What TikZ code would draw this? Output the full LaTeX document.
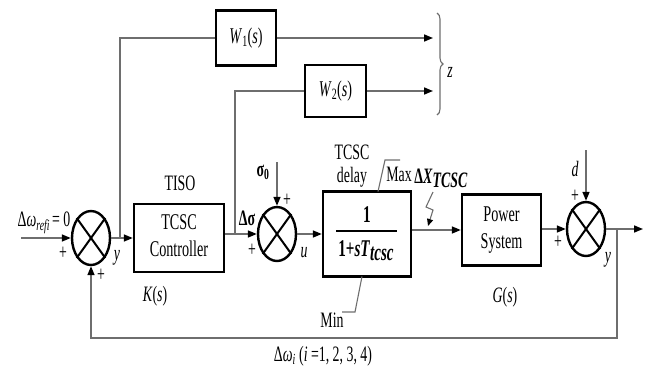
\documentclass[tikz,border=0pt]{standalone}
\usepackage{fontspec}
\setmainfont{Liberation Serif}
\usetikzlibrary{arrows.meta,shapes.geometric,decorations.pathreplacing}
\newcommand{\sq}[1]{\scalebox{0.63}[1]{#1}}
\definecolor{ln}{RGB}{110,110,110}
\begin{document}
\begin{tikzpicture}[x=1pt,y=-1pt,
  conn/.style={ln, line width=1.6pt},
  arr/.style={conn, -{Triangle[length=9pt,width=7pt,color=black]}},
  blk/.style={draw, line width=2.4pt, inner sep=0, font=\fontsize{22.5}{27}\selectfont},
  sumj/.style={ellipse, draw, line width=2.4pt, minimum width=38pt, minimum height=54pt, inner sep=0},
  lbl/.style={inner sep=0, font=\fontsize{22}{25}\selectfont},
  bl/.style={inner sep=0, font=\fontsize{22}{25}\selectfont\bfseries},
  thin/.style={ln, line width=1.1pt}]
\useasboundingbox (0,0) rectangle (664,370);
% summing junctions
\node[sumj] (s1) at (91,238) {};
\node[sumj] (s2) at (277,234) {};
\node[sumj] (s3) at (586,229) {};
\foreach \s in {s1,s2,s3}{
  \draw[line width=2pt] (\s.north east) -- (\s.south west);
  \draw[line width=2pt] (\s.north west) -- (\s.south east);
}
% blocks
\node[blk, minimum width=90, minimum height=68] (ctrl) at (179,238)
  {\sq{\begin{tabular}{@{}c@{}}TCSC\\Controller\end{tabular}}};
\node[blk, minimum width=60, minimum height=55] (W1) at (246,38)
  {\sq{\textit{W}\textsubscript{1}(\textit{s})}};
\node[blk, minimum width=61, minimum height=52] (W2) at (335.5,91)
  {\sq{\textit{W}\textsubscript{2}(\textit{s})}};
\node[blk, minimum width=88, minimum height=85] (dl) at (367,234) {};
\node[blk, minimum width=79, minimum height=71] (pw) at (501.5,230)
  {\sq{\begin{tabular}{@{}c@{}}Power\\System\end{tabular}}};
% fraction in delay block
\node[inner sep=0, font=\fontsize{24}{26}\selectfont\bfseries] (num) at (367,215) {\sq{1}};
\draw[line width=1.3pt] (336,231) -- (397,231);
\node[inner sep=0, font=\fontsize{24}{26}\selectfont\bfseries] (den) at (366,251)
  {\sq{1+\textit{sT}\raisebox{-0.35ex}{\textit{tcsc}}}};
% coordinates
\coordinate (in) at (21,238);
\coordinate (t1) at (120,238);
\coordinate (t2) at (235,234);
\coordinate (z1) at (433,38);
\coordinate (z2) at (433,91);
\coordinate (sg) at (277,162);
\coordinate (dd) at (586,150);
\coordinate (o) at (643,229);
\coordinate (t3) at (617,229);
\coordinate (fb) at (617,338);
% connectors
\draw[arr] (in) -- (s1.west);
\draw[arr] (s1.east) -- (ctrl.west);
\draw[conn] (t1) |- (W1.west);
\draw[arr] (W1.east) -- (z1);
\draw[arr] (s2.west -| ctrl.east) -- (s2.west);
\draw[conn] (t2) |- (W2.west);
\draw[arr] (W2.east) -- (z2);
\draw[arr] (sg) -- (s2.north);
\draw[arr] (s2.east) -- (dl.west);
\draw[arr] (dl.east |- pw.west) -- (pw.west);
\draw[arr] (pw.east |- s3.west) -- (s3.west);
\draw[arr] (dd) -- (s3.north);
\draw[arr] (s3.east) -- (o);
\draw[arr] (t3) -- (fb) -| (s1.south);
% limiter marks
\draw[thin] (378,191.5) -- (385,160) -- (400,160);
\draw[thin] (362,276.5) -- (355,312) -- (342,312);
% lightning arrow
\draw[thin, -{Triangle[length=7pt,width=6pt,color=black]}] (433,192) -- (426,207) -- (433,210) -- (428,226);
% brace
\draw[ln, line width=1.1pt, decorate, decoration={brace, amplitude=6pt}] (437,13) -- (437,115);
% labels
\node[lbl] at (44,223) {\sq{Δ\textit{ω}\textsubscript{\textit{refi}}\,= 0}};
\node[lbl] at (63,253) {\sq{+}};
\node[lbl] at (101,275) {\sq{+}};
\node[lbl] at (117,258) {\sq{\textit{y}}};
\node[lbl] at (180,183) {\sq{TISO}};
\node[lbl] at (155,296) {\sq{\textit{K}(\textit{s})}};
\node[bl] at (247,218) {\sq{Δσ}};
\node[lbl] at (252,250) {\sq{+}};
\node[bl] at (263,172) {\sq{σ\textsubscript{0}}};
\node[lbl] at (287,200) {\sq{+}};
\node[lbl] at (304,253) {\sq{\textit{u}}};
\node[lbl] at (352,152) {\sq{TCSC}};
\node[lbl] at (352,177) {\sq{delay}};
\node[lbl] at (399,174) {\sq{Max}};
\node[lbl] at (332,320) {\sq{Min}};
\node[bl] at (441,178) {\sq{Δ\textit{X}\raisebox{-0.4ex}{\textit{TCSC}}}};
\node[lbl] at (505,297) {\sq{\textit{G}(\textit{s})}};
\node[lbl] at (558,242) {\sq{+}};
\node[lbl] at (575,169) {\sq{\textit{d}}};
\node[lbl] at (575,196) {\sq{+}};
\node[lbl] at (608,260) {\sq{\textit{y}}};
\node[lbl] at (450,72) {\sq{\textit{z}}};
\node[lbl] at (323,356) {\sq{Δ\textit{ω}\textsubscript{\textit{i}} (\textit{i} =1, 2, 3, 4)}};
\end{tikzpicture}
\end{document}
